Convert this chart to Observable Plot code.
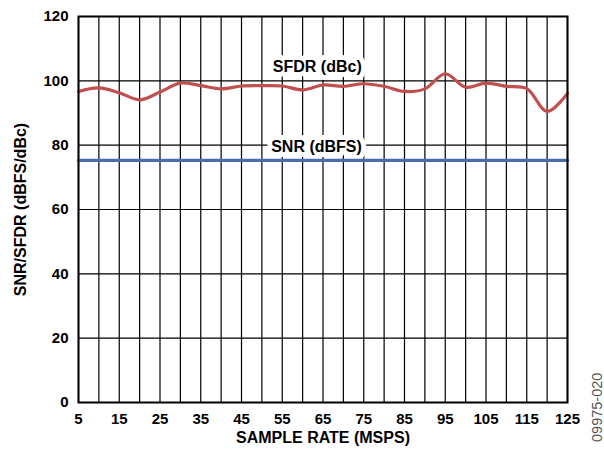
<!DOCTYPE html>
<html>
<head>
<meta charset="utf-8">
<script src="https://cdn.jsdelivr.net/npm/d3@7"></script>
<script src="https://cdn.jsdelivr.net/npm/@observablehq/plot@0.6"></script>
<style>
  html, body { margin: 0; padding: 0; background: #fff; }
  #chart { position: relative; width: 604px; height: 451px; }
  #code { position: absolute; left: 589px; top: 442px; transform-origin: 0 0; transform: rotate(-90deg);
          font: 14.5px/16px "Liberation Sans", Arial, sans-serif; color: #555; white-space: nowrap; }
</style>
</head>
<body>
<div id="chart"></div>
<script>
const sampleRate = [5, 10, 15, 20, 25, 30, 35, 40, 45, 50, 55, 60, 65, 70, 75, 80, 85, 90, 95, 100, 105, 110, 115, 120, 125];
const sfdr = [96.7, 97.8, 96.3, 94.1, 96.5, 99.3, 98.5, 97.5, 98.4, 98.5, 98.4, 97.2, 98.7, 98.3, 99.1, 98.3, 96.7, 97.5, 102.2, 98.0, 99.3, 98.3, 97.6, 90.5, 96.1];
const snr = [75.3, 75.3, 75.3, 75.3, 75.3, 75.3, 75.3, 75.3, 75.3, 75.3, 75.3, 75.3, 75.3, 75.3, 75.3, 75.3, 75.3, 75.3, 75.3, 75.3, 75.3, 75.3, 75.3, 75.3, 75.3];
const xTickLabels = [5, 15, 25, 35, 45, 55, 65, 75, 85, 95, 105, 115, 125];
const xGrid = [5, 10, 15, 20, 25, 30, 35, 40, 45, 50, 55, 60, 65, 70, 75, 80, 85, 90, 95, 100, 105, 110, 115, 120, 125];
const yTickLabels = [0, 20, 40, 60, 80, 100, 120];
const labels = [
  {x: 63.6, y: 104.4, text: "SFDR (dBc)"},
  {x: 63.4, y: 79.6, text: "SNR (dBFS)"}
];

const sfdrData = sampleRate.map((x, i) => ({x, y: sfdr[i]}));
const snrData = sampleRate.map((x, i) => ({x, y: snr[i]}));

const font = "'Liberation Sans', Arial, sans-serif";

const chart = Plot.plot({
  width: 604,
  height: 451,
  marginLeft: 78,
  marginRight: 37,
  marginTop: 16,
  marginBottom: 49,
  style: {fontFamily: font, fontSize: "15px", fontWeight: "bold", color: "#000", background: "#fff"},
  x: {domain: [5, 125]},
  y: {domain: [0, 120]},
  marks: [
    Plot.gridX(xGrid, {stroke: "#000", strokeOpacity: 1, strokeWidth: 1.2}),
    Plot.gridY(yTickLabels, {stroke: "#000", strokeOpacity: 1, strokeWidth: 1.2}),
    Plot.text(labels, {x: "x", y: "y", text: "text", fill: "#000", stroke: "#fff", strokeWidth: 10, fontSize: 16, fontWeight: "bold"}),
    Plot.line(snrData, {x: "x", y: "y", stroke: "#4a6ea9", strokeWidth: 3.2}),
    Plot.line(sfdrData, {x: "x", y: "y", stroke: "#c0504d", strokeWidth: 3.2, curve: "catmull-rom"}),
    Plot.frame({stroke: "#000", strokeWidth: 2}),
    Plot.axisX({ticks: xTickLabels, tickSize: 0, tickPadding: 11, label: "SAMPLE RATE (MSPS)", labelAnchor: "center", labelArrow: "none", labelOffset: 40, fontSize: 15, fontWeight: "bold"}),
    Plot.axisY({ticks: yTickLabels, tickSize: 0, tickPadding: 10, label: "SNR/SFDR (dBFS/dBc)", labelAnchor: "center", labelArrow: "none", labelOffset: 64, fontSize: 15, fontWeight: "bold"})
  ]
});

// enlarge axis titles slightly to match reference
chart.querySelectorAll("g[aria-label='x-axis label'] text, g[aria-label='y-axis label'] text").forEach(t => t.setAttribute("font-size", 16));

const container = document.getElementById("chart");
container.appendChild(chart);
const code = document.createElement("div");
code.id = "code";
code.textContent = "09975-020";
container.appendChild(code);
</script>
</body>
</html>
